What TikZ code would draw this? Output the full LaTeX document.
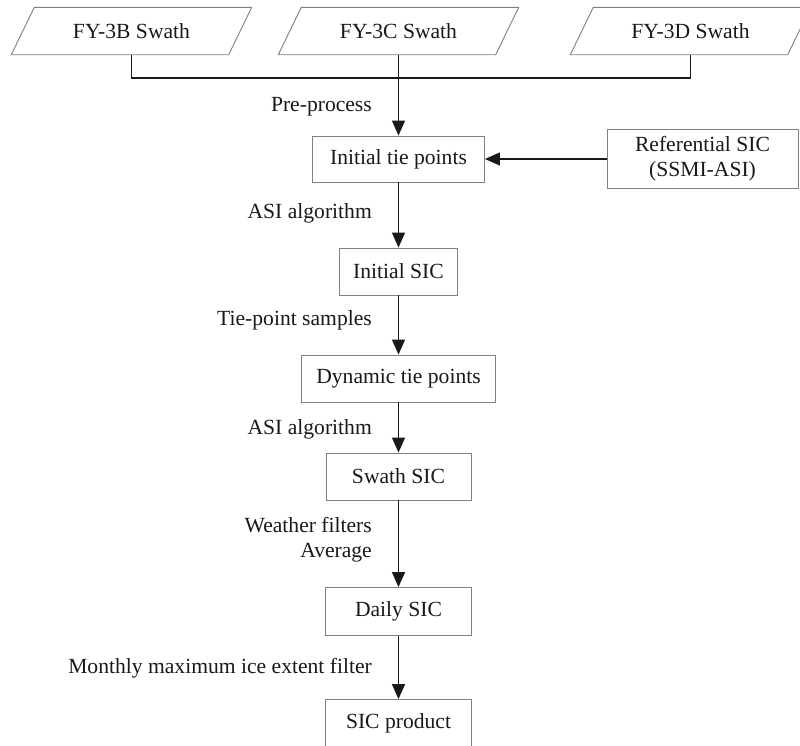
\documentclass[tikz,border=0pt]{standalone}
\usepackage{fontspec}
\setmainfont{Liberation Serif}
\usetikzlibrary{arrows.meta}
\begin{document}
\begin{tikzpicture}[x=1pt,y=-1pt,
  every node/.style={font=\fontsize{21.6}{25}\selectfont, text=black!90},
  boxnode/.style={draw=black!50, line width=0.9pt, inner sep=0pt},
  paranode/.style={inner sep=0pt, minimum width=217pt, minimum height=47pt},
  paraline/.style={draw=black!50, line width=0.9pt},
  conn/.style={draw=black!90, line width=1.3pt},
  flow/.style={conn, -{Triangle[length=15pt,width=13pt]}},
  lbl/.style={anchor=east, inner sep=0pt}
]
\useasboundingbox (0,0) rectangle (800,745);
\fill[white] (0,0) rectangle (800,745);
\clip (0,0) rectangle (800,745);

% input swaths
\node[paranode] (fyb) at (131.5,31) {FY-3B Swath};
\node[paranode] (fyc) at (398.5,31) {FY-3C Swath};
\node[paranode] (fyd) at (690.5,31) {FY-3D Swath};
\foreach \n in {fyb,fyc,fyd}{
  \draw[paraline] ([xshift=11.5pt]\n.north west) -- ([xshift=11.5pt]\n.north east)
    -- ([xshift=-11.5pt]\n.south east) -- ([xshift=-11.5pt]\n.south west) -- cycle;
}

% process boxes
\node[boxnode, minimum width=172pt, minimum height=46pt] (itp) at (398.5,159) {Initial tie points};
\node[boxnode, minimum width=191pt, minimum height=59pt, align=center] (ref) at (702.5,158.5) {Referential SIC\\(SSMI-ASI)};
\node[boxnode, minimum width=118pt, minimum height=47pt] (isic) at (398.5,271.5) {Initial SIC};
\node[boxnode, minimum width=194pt, minimum height=47pt] (dtp) at (398.5,378.5) {Dynamic tie points};
\node[boxnode, minimum width=145pt, minimum height=47pt] (ssic) at (398.5,476.5) {Swath SIC};
\node[boxnode, minimum width=146pt, minimum height=48pt] (dsic) at (398.5,611.5) {Daily SIC};
\node[boxnode, minimum width=146pt, minimum height=48pt] (prod) at (398.5,723.5) {SIC product};

% connectors
\coordinate (junc) at (398.5,78);
\draw[conn] (fyb.south) |- (junc) -| (fyd.south);
\draw[conn] (fyc.south) -- (junc);
\draw[flow] (junc) -- (itp.north);
\draw[flow] (ref.west |- itp.east) -- (itp.east);
\draw[flow] (itp.south) -- (isic.north);
\draw[flow] (isic.south) -- (dtp.north);
\draw[flow] (dtp.south) -- (ssic.north);
\draw[flow] (ssic.south) -- (dsic.north);
\draw[flow] (dsic.south) -- (prod.north);

% labels
\node[lbl] (l1) at (372,107) {Pre-process};
\node[lbl] (l2) at (372,213) {ASI algorithm};
\node[lbl] (l3) at (372,320) {Tie-point samples};
\node[lbl] (l4) at (372,429) {ASI algorithm};
\node[lbl, align=right] (l5) at (372,539.5) {Weather filters\\Average};
\node[lbl] (l6) at (372,668) {Monthly maximum ice extent filter};
\end{tikzpicture}
\end{document}
